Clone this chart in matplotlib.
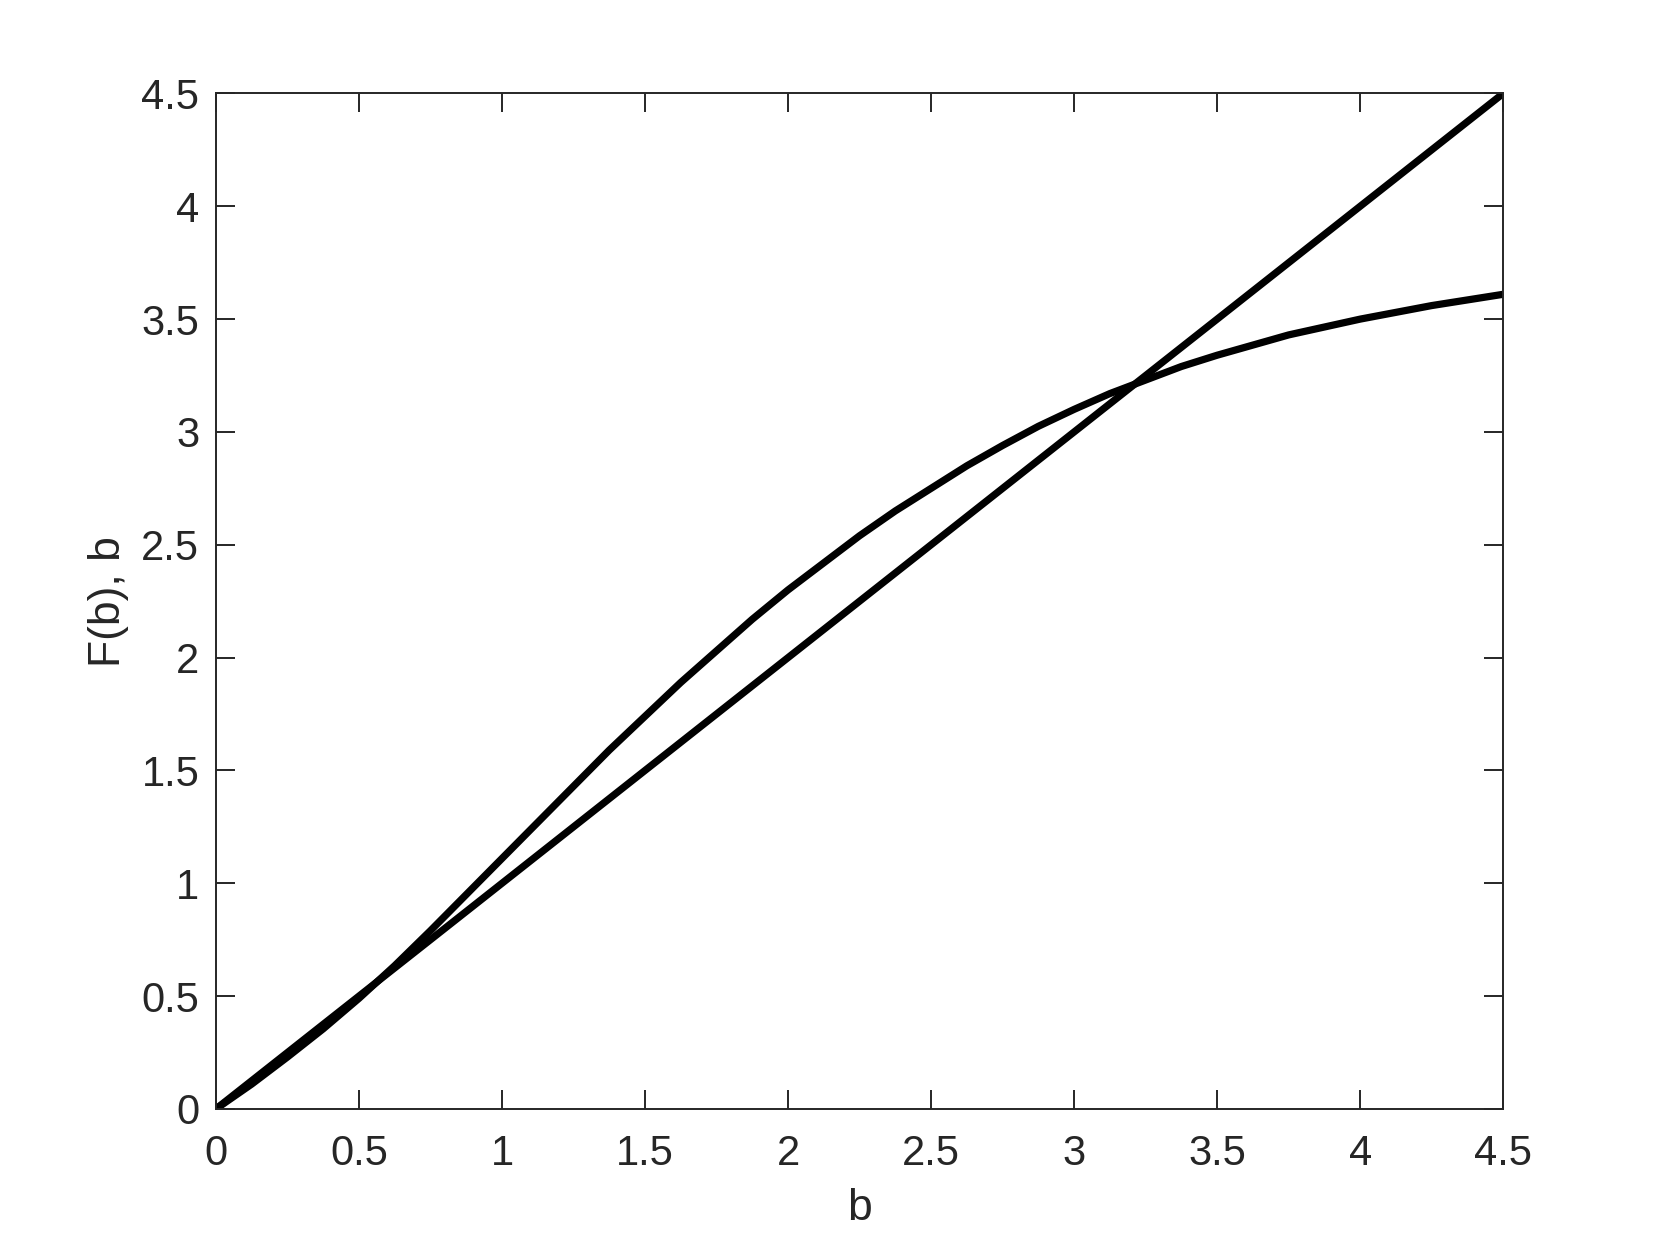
import numpy as np
import matplotlib
matplotlib.use("Agg")
import matplotlib.pyplot as plt

# values
b = [0, 0.125, 0.25, 0.375, 0.5, 0.625, 0.75, 0.875, 1.0, 1.125, 1.25,
     1.375, 1.5, 1.625, 1.75, 1.875, 2.0, 2.125, 2.25, 2.375, 2.5,
     2.625, 2.75, 2.875, 3.0, 3.125, 3.25, 3.375, 3.5, 3.625, 3.75,
     3.875, 4.0, 4.125, 4.25, 4.375, 4.5]
F = [0, 0.11, 0.23, 0.355, 0.49, 0.635, 0.79, 0.95, 1.11, 1.27, 1.43,
     1.59, 1.74, 1.89, 2.03, 2.17, 2.30, 2.42, 2.54, 2.65, 2.75,
     2.85, 2.94, 3.025, 3.10, 3.17, 3.23, 3.29, 3.34, 3.385, 3.43,
     3.465, 3.50, 3.53, 3.56, 3.585, 3.61]
line_b = [0, 4.5]
ticks = [0, 0.5, 1, 1.5, 2, 2.5, 3, 3.5, 4, 4.5]
tick_labels = ["0", "0.5", "1", "1.5", "2", "2.5", "3", "3.5", "4", "4.5"]

plt.rcParams['font.family'] = ['Liberation Sans', 'DejaVu Sans']
grey = (0.15, 0.15, 0.15)

fig = plt.figure(figsize=(16.61, 12.46), dpi=100)
ax = fig.add_axes([0.13, 0.11, 0.775, 0.815])

ax.plot(b, F, color='k', lw=5.2, solid_capstyle='round', solid_joinstyle='round')
ax.plot(line_b, line_b, color='k', lw=5.2, solid_capstyle='round')

ax.set_xlim(0, 4.5)
ax.set_ylim(0, 4.5)
ax.set_xticks(ticks)
ax.set_xticklabels(tick_labels)
ax.set_yticks(ticks)
ax.set_yticklabels(tick_labels)
ax.tick_params(direction='in', length=14, width=1.4, color=grey, labelcolor=grey,
               labelsize=30, top=True, right=True)
ax.tick_params(axis='x', pad=18)
ax.tick_params(axis='y', pad=12)
for s in ax.spines.values():
    s.set_color(grey)
    s.set_linewidth(1.4)

ax.set_xlabel('b', fontsize=32, color=grey, labelpad=10)
ax.set_ylabel('F(b), b', fontsize=32, color=grey, labelpad=9)

fig.savefig('out.png', dpi=100)
